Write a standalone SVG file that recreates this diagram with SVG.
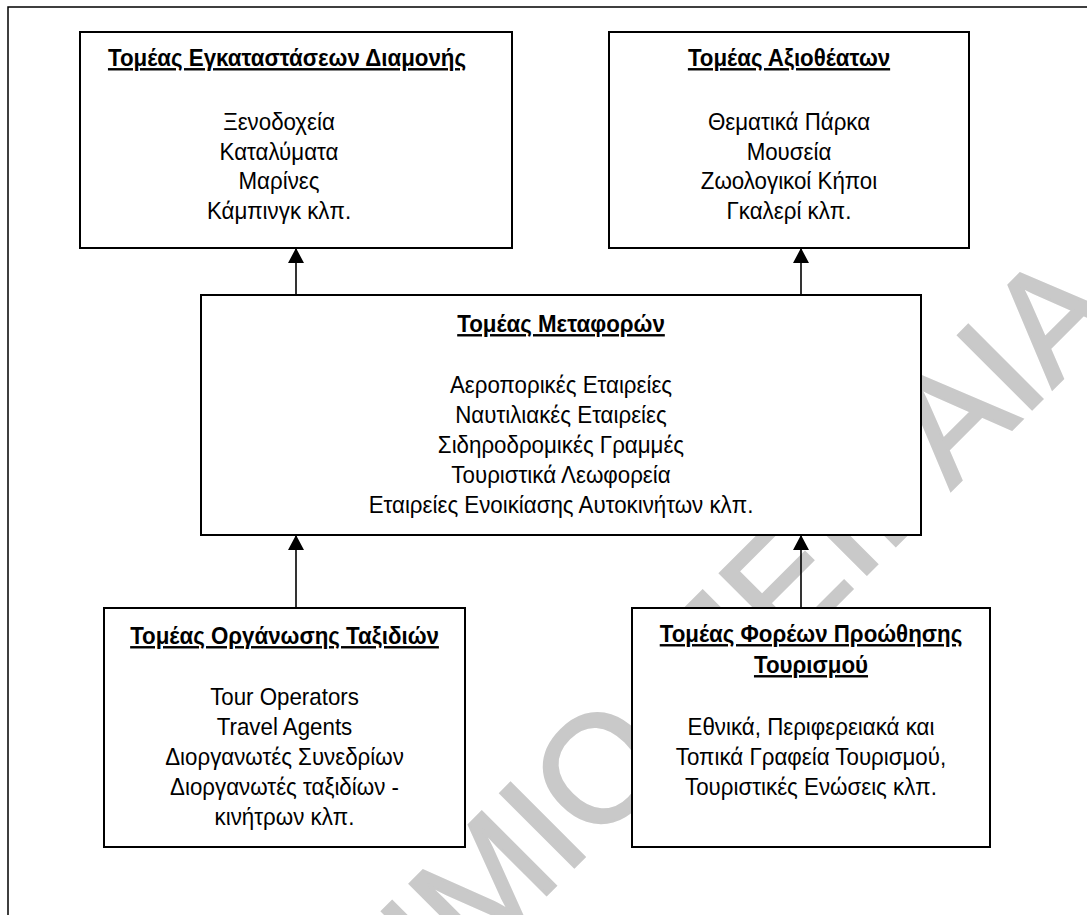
<svg xmlns="http://www.w3.org/2000/svg" width="1087" height="915" viewBox="0 0 1087 915">
<defs>
<marker id="arrow" markerWidth="16" markerHeight="16" refX="15" refY="8" orient="auto" markerUnits="userSpaceOnUse"><path d="M0,0 L15,8 L0,16 Z" fill="#000"/></marker>
<style>
.frame{fill:none;stroke:#000;stroke-width:1.5}
.box{fill:#fff;stroke:#000;stroke-width:2}
.t{font-family:"Liberation Sans",Arial,sans-serif;font-size:24px;fill:#000;text-anchor:middle}
.h{font-weight:bold;text-decoration:underline}
.conn{stroke:#000;stroke-width:1.6;fill:none;marker-end:url(#arrow)}
.wm{font-family:"Liberation Sans",Arial,sans-serif;font-size:152px;fill:#c9c9c9;stroke:#c9c9c9;stroke-width:2.5}
</style>
</defs>
<rect class="frame" x="8" y="7" width="1090" height="930"/>
<text class="wm" transform="translate(590,775) rotate(-45)" x="701" y="54" text-anchor="end">ΠΑΝΕΠΙΣΤΗΜΙΟ ΠΕΙΡΑΙΑ</text>

<g id="node-accommodation">
<rect class="box" x="80" y="32" width="432" height="216"/>
<text class="t h" transform="translate(287 66) scale(0.93 1)">Τομέας Εγκαταστάσεων Διαμονής</text>
<text class="t" transform="translate(279 130) scale(0.93 1)">Ξενοδοχεία</text>
<text class="t" transform="translate(279 159.5) scale(0.93 1)">Καταλύματα</text>
<text class="t" transform="translate(279 189) scale(0.93 1)">Μαρίνες</text>
<text class="t" transform="translate(279 218.5) scale(0.93 1)">Κάμπινγκ κλπ.</text>
</g>

<g id="node-attractions">
<rect class="box" x="609" y="32" width="360" height="216"/>
<text class="t h" transform="translate(789 66) scale(0.93 1)">Τομέας Αξιοθέατων</text>
<text class="t" transform="translate(789 130) scale(0.93 1)">Θεματικά Πάρκα</text>
<text class="t" transform="translate(789 159.5) scale(0.93 1)">Μουσεία</text>
<text class="t" transform="translate(789 189) scale(0.93 1)">Ζωολογικοί Κήποι</text>
<text class="t" transform="translate(789 218.5) scale(0.93 1)">Γκαλερί κλπ.</text>
</g>

<g id="node-transport">
<rect class="box" x="201" y="295" width="720" height="240"/>
<text class="t h" transform="translate(561 332) scale(0.93 1)">Τομέας Μεταφορών</text>
<text class="t" transform="translate(561 393) scale(0.93 1)">Αεροπορικές Εταιρείες</text>
<text class="t" transform="translate(561 423) scale(0.93 1)">Ναυτιλιακές Εταιρείες</text>
<text class="t" transform="translate(561 453) scale(0.93 1)">Σιδηροδρομικές Γραμμές</text>
<text class="t" transform="translate(561 483) scale(0.93 1)">Τουριστικά Λεωφορεία</text>
<text class="t" transform="translate(561 513) scale(0.93 1)">Εταιρείες Ενοικίασης Αυτοκινήτων κλπ.</text>
</g>

<g id="node-travel">
<rect class="box" x="104" y="608" width="361" height="239"/>
<text class="t h" transform="translate(284.5 644) scale(0.93 1)">Τομέας Οργάνωσης Ταξιδιών</text>
<text class="t" transform="translate(284.5 705) scale(0.93 1)">Tour Operators</text>
<text class="t" transform="translate(284.5 735) scale(0.93 1)">Travel Agents</text>
<text class="t" transform="translate(284.5 765) scale(0.93 1)">Διοργανωτές Συνεδρίων</text>
<text class="t" transform="translate(284.5 795) scale(0.93 1)">Διοργανωτές ταξιδίων -</text>
<text class="t" transform="translate(284.5 825) scale(0.93 1)">κινήτρων κλπ.</text>
</g>

<g id="node-promotion">
<rect class="box" x="632" y="608" width="358" height="239"/>
<text class="t h" transform="translate(811 642) scale(0.93 1)">Τομέας Φορέων Προώθησης</text>
<text class="t h" transform="translate(811 673) scale(0.93 1)">Τουρισμού</text>
<text class="t" transform="translate(811 735) scale(0.93 1)">Εθνικά, Περιφερειακά και</text>
<text class="t" transform="translate(811 765) scale(0.93 1)">Τοπικά Γραφεία Τουρισμού,</text>
<text class="t" transform="translate(811 795) scale(0.93 1)">Τουριστικές Ενώσεις κλπ.</text>
</g>

<g id="connectors">
<line class="conn" x1="296" y1="295" x2="296" y2="248"/>
<line class="conn" x1="801" y1="295" x2="801" y2="248"/>
<line class="conn" x1="296" y1="608" x2="296" y2="535"/>
<line class="conn" x1="801" y1="608" x2="801" y2="535"/>
</g>
</svg>
